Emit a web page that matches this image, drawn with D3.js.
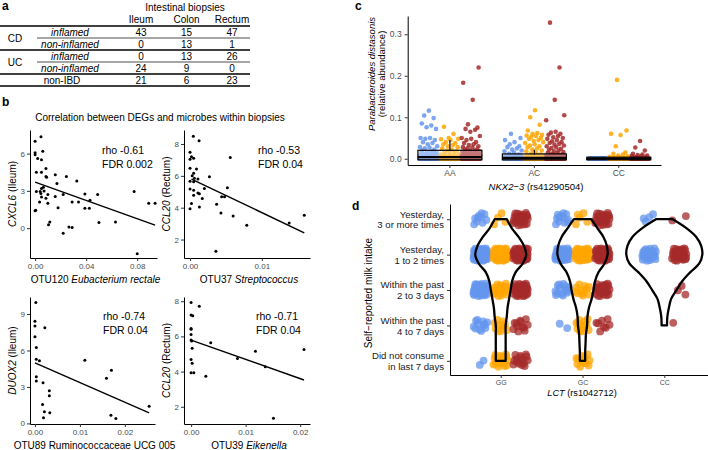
<!DOCTYPE html>
<html>
<head>
<meta charset="utf-8">
<script src="https://cdn.jsdelivr.net/npm/d3@7"></script>
<style>
  body { margin: 0; background: #fff; }
</style>
</head>
<body>
<svg id="fig" width="708" height="450"></svg>
<script>
// ---------- panel a: table ----------
const tissues = ["Ileum", "Colon", "Rectum"];
const diseases = ["CD", "UC"];
const states = ["inflamed", "non-inflamed"];
const cdCounts = [[43, 15, 47], [0, 13, 1]];
const ucCounts = [[0, 13, 26], [24, 9, 0]];
const nonIbdCounts = [21, 6, 23];

// ---------- panel b: correlations (x = OTU abundance, y = expression) ----------
const tlPoints = [[0,7.0],[0.0046,7.35],[0,6.06],[0,5.9],[0.002,5.6],[0.006,6.2],[0.005,5.5],[0.001,4.5],[0.005,4.5],
  [0.0085,4.8],[0.0085,4.15],[0.009,4.1],[0.0158,4.3],[0.0245,4.15],[0.0327,3.8],[0.0171,3.6],[0.001,2.95],[0.004,2.95],
  [0.0045,2.8],[0.0065,3.3],[0.005,3.2],[0.007,3.0],[0.005,2.5],[0.0035,2.1],[0.0085,2.4],[0.010,2.7],[0.010,2.0],
  [0.0158,2.55],[0.022,2.7],[0.018,1.65],[0.029,2.1],[0.034,2.1],[0.039,2.75],[0.039,1.6],[0.043,2.25],[0.0425,1.6],
  [0.049,2.7],[0.050,0.45],[0.063,0.5],[0.0776,2.95],[0.089,2.0],[0.094,2.0],[0,1.4],[0.0005,1.45],[0.0115,0.5],
  [0.0105,0.27],[0.0265,0.1],[0.029,0.05],[0.022,-0.4],[0.080,-2.05]];
const tlFit = [[0, 3.7], [0.094, 0.24]];

const trPoints = [[0.00046,8.48],[0.00126,8.2],[0,7.49],[0.0002,7.2],[0.0005,7.1],[0,7.05],[0.0009,6.43],[0,6.47],
  [0.0005,6.16],[0.0003,6.0],[0.0006,5.85],[0.0011,5.8],[0.0027,5.94],[0.0056,7.15],[0.0005,5.63],[0,5.66],[0,5.17],
  [0.0005,5.1],[0.0011,4.93],[0.0005,4.78],[0.0013,4.88],[0.002,5.2],[0.0017,4.58],[0.0002,4.26],[0,3.94],[0.0013,4.04],
  [0.0037,4.22],[0.0044,4.68],[0.0048,4.68],[0.0052,5.25],[0.0043,3.67],[0.006,3.48],[0.0079,2.89],[0.0138,3.04],
  [0.0159,3.52],[0.0036,1.27]];
const trFit = [[0.0002, 5.8], [0.0159, 2.42]];

const blPoints = [[0.0002,9.94],[0,8.4],[0,8.02],[0.0022,7.86],[0,7.12],[0.0003,6.24],[0.0003,5.28],[0.001,5.15],
  [0.0003,3.83],[0.0003,3.48],[0.0018,3.34],[0.0032,2.68],[0.0032,2.27],[0.0017,1.56],[0.0021,0.95],[0.0033,0.87],
  [0.0019,0.46],[0.0111,5.2],[0.0159,3.72],[0.017,4.38],[0.0169,0.68],[0.018,0.41],[0.0254,1.42]];
const blFit = [[0, 4.98], [0.0254, 0.87]];

const brPoints = [[0,7.93],[0.0015,7.72],[0,7.21],[0.0003,7.17],[0,6.45],[0,6.4],[0,6.11],[0,5.79],[0.0001,5.74],
  [0.0002,5.32],[0,4.69],[0.0002,4.47],[0,3.93],[0.0005,3.93],[0.0027,3.74],[0.0036,5.64],[0.0085,4.75],[0.0118,5.16],
  [0.0207,5.26],[0.0151,1.34],[0.0136,4.27]];
const brFit = [[0, 5.79], [0.0207, 3.52]];

// ---------- panel c: P. distasonis by NKX2-3 genotype (three cohorts per genotype) ----------
const nkxGenotypes = ["AA", "AC", "CC"];
const aaBlue = [.116,.104,.098,.085,.080,.076,.072,.050,.050,.048,.045,.040,.038,.035,.030,.028,.027,.025,.022,.020,
  .018,.017,.015,.015,.013,.012,.012,.010,.010,.009,.008,.008,.007,.006,.006,.005,.005,.005,.004,.004,.004,.003,.003,
  .003,.002,.002,.002,.002,.001,.001,.001,.001,
  0,0,0,0,0,0,0,0,0,0,0,0,0,0,0,0,0,0,0,0,0,0,0,0,0,0,0,0];
const aaOrange = [.077,.060,.050,.048,.047,.045,.040,.038,.035,.033,.030,.028,.025,.022,.020,.018,.015,.014,.012,.011,
  .010,.009,.008,.007,.006,.006,.005,.005,.004,.004,.003,.003,.002,.002,.001,.001,.001,
  0,0,0,0,0,0,0,0,0,0,0,0,0,0,0,0,0,0,0,0,0,0,0];
const aaRed = [.220,.183,.142,.083,.075,.072,.070,.065,.055,.050,.048,.045,.040,.038,.035,.033,.030,.028,.027,.025,
  .023,.022,.020,.019,.018,.017,.016,.015,.014,.014,.013,.012,.012,.011,.010,.010,.009,.009,.008,.008,.008,.007,.007,
  .006,.006,.006,.005,.005,.005,.005,.004,.004,.004,.003,.003,.003,.003,.002,.002,.002,.002,.001,.001,.001,.001,.001,
  0,0,0,0,0,0,0,0,0,0,0,0,0,0,0,0,0,0,0,0,0,0,0,0,0,0,0,0,0,0,0,0,0,0,0,0];
const acBlue = [.060,.050,.045,.040,.035,.030,.028,.025,.022,.020,.018,.015,.012,.010,.008,.008,.007,.007,.006,.006,
  .006,.005,.005,.005,.004,.004,.004,.003,.003,.003,.003,.002,.002,.002,.002,.002,.002,.002,.002,.002,.002,
  .001,.001,.001,.001,.001,.001,.001,.001,.001,.001,.001,.001,
  0,0,0,0,0,0,0,0,0,0,0,0,0,0,0,0,0,0,0,0,0,0,0,0,0,0,0,0,0,0];
const acOrange = [.117,.100,.082,.068,.062,.060,.058,.056,.055,.053,.050,.048,.045,.043,.040,.038,.035,.032,.030,.028,
  .025,.022,.020,.018,.015,.012,.010,.008,.008,.007,.007,.006,.006,.006,.005,.005,.005,.004,.004,.004,.003,.003,.003,
  .003,.002,.002,.002,.002,.002,.002,.002,.002,.002,.002,.001,.001,.001,.001,.001,.001,.001,.001,.001,.001,.001,
  0,0,0,0,0,0,0,0,0,0,0,0,0,0,0,0,0,0,0,0,0,0,0,0,0,0,0,0,0,0];
const acRed = [.328,.220,.142,.105,.093,.065,.063,.060,.058,.055,.052,.050,.048,.045,.042,.040,.038,.036,.034,.032,
  .030,.028,.026,.024,.022,.020,.018,.016,.015,.014,.012,.011,.010,.009,.008,.008,.008,.007,.007,.007,.006,.006,.006,
  .006,.005,.005,.005,.005,.004,.004,.004,.004,.004,.004,.003,.003,.003,.003,.003,.003,.003,
  .002,.002,.002,.002,.002,.002,.002,.002,.002,.002,.002,.002,.002,.002,
  .001,.001,.001,.001,.001,.001,.001,.001,.001,.001,.001,.001,.001,
  0,0,0,0,0,0,0,0,0,0,0,0,0,0,0,0,0,0,0,0,0,0,0,0,0,0,0,0,0,0];
const ccBlue = [.001,.001,.001,0,0,0,0,0,0,0,0,0,0,0,0,0,0,0,0,0,0,0,0,0,0,0,0,0,0,0,0,0,0,0,0,0];
const ccOrange = [.190,.068,.060,.057,.030,.015,.012,.010,.008,.006,.005,.004,.003,.002,.002,.002,.001,.001,.001,.001,
  .001,0,0,0,0,0,0,0,0,0,0,0,0,0,0,0,0,0,0,0,0,0,0,0,0,0];
const ccRed = [.043,.027,.020,.012,.010,.009,.008,.007,.006,.005,.004,.003,.002,.002,.002,.001,.001,.001,.001,
  0,0,0,0,0,0,0,0,0,0,0,0,0,0,0,0,0,0,0,0,0,0,0];

// ---------- panel d: milk intake by LCT genotype ----------
const lctGenotypes = ["GG", "GC", "CC"];
const intakeLevels = [["Yesterday,", "3 or more times"], ["Yesterday,", "1 to 2 times"],
  ["Within the past", "2 to 3 days"], ["Within the past", "4 to 7 days"], ["Did not consume", "in last 7 days"]];
// points per intake level, columns: blue, orange, red cohort
const countsGG = [[10, 4, 25], [50, 50, 50], [35, 20, 35], [12, 10, 12], [2, 20, 15]];
const countsGC = [[12, 5, 25], [40, 40, 40], [15, 12, 25], [2, 12, 8], [0, 12, 0]];
const countsCC = [[4, 0, 2], [25, 0, 30], [0, 0, 3], [0, 0, 1], [0, 0, 0]];
// violin outline: relative density read at intake positions
const violinPosGG = [1, 1.25, 1.5, 1.75, 2, 2.25, 2.5, 2.75, 3, 3.25, 3.5, 3.75, 4, 4.25, 4.5, 4.75, 5];
const violinGG = [0.16, 0.29, 0.47, 0.61, 0.67, 0.58, 0.39, 0.30, 0.26, 0.22, 0.18, 0.16, 0.13, 0.13, 0.13, 0.13, 0.13];
const violinPosGC = [1, 1.25, 1.5, 1.75, 2, 2.25, 2.5, 2.75, 3, 3.25, 3.5, 3.75, 4, 4.25, 4.5, 4.75, 5];
const violinGC = [0.23, 0.39, 0.55, 0.64, 0.66, 0.58, 0.42, 0.33, 0.29, 0.24, 0.17, 0.13, 0.12, 0.09, 0.08, 0.07, 0.07];
const violinPosCC = [1, 1.25, 1.5, 1.75, 2, 2.25, 2.5, 2.75, 3, 3.25, 3.5, 3.75, 4];
const violinCC = [0.22, 0.58, 0.84, 0.97, 1.0, 0.92, 0.68, 0.47, 0.32, 0.18, 0.12, 0.08, 0.07];

const cohortColors = ["#6495ED", "#FFA500", "#A52A2A"];

// ============================================================
const FONT = "'Liberation Sans', Arial, Helvetica, sans-serif";
const svg = d3.select("#fig").style("font-family", FONT);

// deterministic spread for jittered points
function halton(i, b) {
  let f = 1, r = 0;
  while (i > 0) { f /= b; r += f * (i % b); i = Math.floor(i / b); }
  return r;
}

function styleAxis(g, fs) {
  g.attr("font-family", FONT);
  g.select(".domain").attr("stroke", "#000").attr("stroke-width", 1);
  g.selectAll(".tick line").attr("stroke", "#333");
  g.selectAll(".tick text").attr("fill", "#4d4d4d").attr("font-size", fs);
}

function richText(sel, parts) {
  parts.forEach(([t, it]) => {
    sel.append("tspan").attr("font-style", it ? "italic" : "normal").text(t);
  });
  return sel;
}

function letter(x, y, t) {
  svg.append("text").attr("x", x).attr("y", y).attr("font-weight", "bold")
    .attr("font-size", 12).text(t);
}

// ---------- a ----------
letter(2, 10, "a");
const ta = svg.append("g").attr("font-size", 10).attr("fill", "#000");
const colX = d3.scalePoint().domain(tissues).range([141, 232]);
const rowY = d3.scaleBand().domain(d3.range(5)).range([26, 86]);

ta.append("text").attr("x", 185).attr("y", 11).attr("text-anchor", "middle").text("Intestinal biopsies");
tissues.forEach(t => ta.append("text").attr("x", colX(t)).attr("y", 23).attr("text-anchor", "middle").text(t));

const tableRows = [];
diseases.forEach((d, di) => {
  const counts = di === 0 ? cdCounts : ucCounts;
  states.forEach((s, si) => tableRows.push({ disease: d, state: s, counts: counts[si], first: si === 0 }));
});
tableRows.push({ disease: null, state: "non-IBD", counts: nonIbdCounts });

tableRows.forEach((r, i) => {
  const cy = rowY(i) + rowY.bandwidth() / 2 + 3.6;
  const lab = ta.append("text").attr("x", r.disease ? 70 : 62).attr("y", cy).attr("text-anchor", "middle")
    .text(r.state);
  if (r.disease) lab.attr("font-style", "italic");
  r.counts.forEach((c, j) => ta.append("text").attr("x", colX(tissues[j])).attr("y", cy)
    .attr("text-anchor", "middle").text(c));
  if (r.disease && r.first) {
    ta.append("text").attr("x", 15).attr("y", rowY(i) + rowY.bandwidth() + 3.6)
      .attr("text-anchor", "middle").text(r.disease);
    ta.append("line").attr("x1", 37).attr("x2", 250)
      .attr("y1", rowY(i) + rowY.bandwidth()).attr("y2", rowY(i) + rowY.bandwidth())
      .attr("stroke", "#888").attr("stroke-width", 1.3);
  }
});
[0, 2, 4].forEach(i => ta.append("line").attr("x1", 0).attr("x2", 250)
  .attr("y1", rowY(i)).attr("y2", rowY(i)).attr("stroke", "#000").attr("stroke-width", 1.6));
ta.append("line").attr("x1", 0).attr("x2", 250).attr("y1", 86).attr("y2", 86)
  .attr("stroke", "#000").attr("stroke-width", 1.6);

// ---------- b ----------
letter(2, 106, "b");
svg.append("text").attr("x", 160).attr("y", 121).attr("text-anchor", "middle").attr("font-size", 10)
  .text("Correlation between DEGs and microbes within biopsies");

function scatterPanel(cfg) {
  const x = d3.scaleLinear().domain(cfg.xd).range([cfg.x0, cfg.x1]);
  const y = d3.scaleLinear().domain(cfg.yd).range([cfg.y1, cfg.y0]);
  const g = svg.append("g");

  const gx = g.append("g").attr("transform", `translate(0,${cfg.y1})`)
    .call(d3.axisBottom(x).tickValues(cfg.xt).tickFormat(d3.format(".2f"))
      .tickSize(3).tickSizeOuter(0).tickPadding(2));
  styleAxis(gx, 8);
  const gy = g.append("g").attr("transform", `translate(${cfg.x0},0)`)
    .call(d3.axisLeft(y).tickValues(cfg.yt).tickSize(3).tickSizeOuter(0).tickPadding(2));
  styleAxis(gy, 8);

  g.selectAll(".pt").data(cfg.points).enter().append("circle")
    .attr("cx", d => x(d[0])).attr("cy", d => y(d[1])).attr("r", 1.5).attr("fill", "#000");

  g.append("path").datum(cfg.fit)
    .attr("d", d3.line().x(d => x(d[0])).y(d => y(d[1])))
    .attr("stroke", "#000").attr("stroke-width", 1.4).attr("fill", "none");

  cfg.stat.forEach((s, i) => g.append("text").attr("x", cfg.sx).attr("y", cfg.sy + i * 14)
    .attr("font-size", 10.5).text(s));

  richText(g.append("text").attr("font-size", 10).attr("text-anchor", "middle")
    .attr("transform", `translate(${cfg.x0 - 14.5},${(cfg.y0 + cfg.y1) / 2}) rotate(-90)`), cfg.ytitle);
  richText(g.append("text").attr("font-size", 10).attr("text-anchor", "middle")
    .attr("x", (cfg.x0 + cfg.x1) / 2 + 2).attr("y", cfg.y1 + 25), cfg.xtitle);
}

scatterPanel({ points: tlPoints, fit: tlFit, x0: 30, x1: 157, y0: 130, y1: 258,
  xd: [-0.004, 0.0955], yd: [-2.4, 7.9], xt: [0, 0.04, 0.08], yt: [0, 3, 6],
  stat: ["rho -0.61", "FDR 0.002"], sx: 102, sy: 154,
  ytitle: [["CXCL6", true], ["  (Ileum)", false]], xtitle: [["OTU120  ", false], ["Eubacterium rectale", true]] });
scatterPanel({ points: trPoints, fit: trFit, x0: 184, x1: 310, y0: 130, y1: 258,
  xd: [-0.00084, 0.0167], yd: [0.84, 8.88], xt: [0, 0.01], yt: [2, 4, 6, 8],
  stat: ["rho -0.53", "FDR 0.04"], sx: 258, sy: 154,
  ytitle: [["CCL20", true], ["  (Rectum)", false]], xtitle: [["OTU37  ", false], ["Streptococcus", true]] });
scatterPanel({ points: blPoints, fit: blFit, x0: 30, x1: 155, y0: 297, y1: 424,
  xd: [-0.0011, 0.0267], yd: [-0.05, 10.4], xt: [0, 0.01, 0.02], yt: [0, 3, 6, 9],
  stat: ["rho -0.74", "FDR 0.04"], sx: 103, sy: 320,
  ytitle: [["DUOX2", true], ["  (Ileum)", false]], xtitle: [["OTU89 Ruminococcaceae UCG 005", false]] });
scatterPanel({ points: brPoints, fit: brFit, x0: 184, x1: 310, y0: 297, y1: 424,
  xd: [-0.0013, 0.0218], yd: [1.02, 8.24], xt: [0, 0.01, 0.02], yt: [2, 4, 6, 8],
  stat: ["rho -0.71", "FDR 0.04"], sx: 256, sy: 320,
  ytitle: [["CCL20", true], ["  (Rectum)", false]], xtitle: [["OTU39  ", false], ["Eikenella", true]] });

// ---------- c ----------
letter(355, 10, "c");
{
  const x = d3.scaleBand().domain(nkxGenotypes).range([407.7, 661]);
  const y = d3.scaleLinear().domain([-0.015, 0.344]).range([165, 16]);
  const g = svg.append("g");
  const groups = { AA: [aaBlue, aaOrange, aaRed], AC: [acBlue, acOrange, acRed], CC: [ccBlue, ccOrange, ccRed] };
  const dodge = 21;

  nkxGenotypes.forEach((gt, gi) => {
    const cx = x(gt) + x.bandwidth() / 2;
    groups[gt].forEach((vals, ci) => {
      g.append("g").selectAll("circle").data(vals).enter().append("circle")
        .attr("cx", (d, i) => cx + (ci - 1) * dodge + (halton(i + 1 + ci * 11 + gi * 5, 2) - 0.5) * 19)
        .attr("cy", d => y(d)).attr("r", 2.3)
        .attr("fill", cohortColors[ci]).attr("fill-opacity", 0.85);
    });
    // boxplot of all values for the genotype
    const v = groups[gt].flat().sort(d3.ascending);
    const q1 = d3.quantile(v, 0.25), med = d3.quantile(v, 0.5), q3 = d3.quantile(v, 0.75);
    const hi = d3.max(v.filter(d => d <= q3 + 1.5 * (q3 - q1)));
    const bw = 64;
    g.append("line").attr("x1", cx).attr("x2", cx).attr("y1", y(q3)).attr("y2", y(hi))
      .attr("stroke", "#000").attr("stroke-width", 1.2);
    g.append("rect").attr("x", cx - bw / 2).attr("width", bw).attr("y", y(q3) - 1)
      .attr("height", Math.max(0, y(q1) - y(q3)) + 2).attr("fill", "#fff").attr("fill-opacity", 0.35)
      .attr("stroke", "#000").attr("stroke-width", 1.2);
    g.append("line").attr("x1", cx - bw / 2).attr("x2", cx + bw / 2).attr("y1", y(med)).attr("y2", y(med))
      .attr("stroke", "#000").attr("stroke-width", 2.2);
  });

  const gy = g.append("g").attr("transform", "translate(407.7,0)")
    .call(d3.axisLeft(y).tickValues([0, 0.1, 0.2, 0.3]).tickFormat(d3.format(".1f"))
      .tickSize(3).tickSizeOuter(0).tickPadding(3));
  styleAxis(gy, 8.5);
  const gx = g.append("g").attr("transform", "translate(0,165)")
    .call(d3.axisBottom(x).tickSize(3).tickSizeOuter(0).tickPadding(2));
  styleAxis(gx, 8.5);

  richText(g.append("text").attr("x", 536).attr("y", 190).attr("font-size", 9.5).attr("text-anchor", "middle")
    .attr("fill", "#000"), [["NKX2−3", true], [" (rs41290504)", false]]);
  g.append("text").attr("font-size", 9.5).attr("text-anchor", "middle").attr("font-style", "italic")
    .attr("transform", "translate(375,74) rotate(-90)").text("Parabacteroides distasonis");
  g.append("text").attr("font-size", 9.5).attr("text-anchor", "middle")
    .attr("transform", "translate(385,74) rotate(-90)").text("(relative abundance)");
}

// ---------- d ----------
letter(352, 210, "d");
{
  const x = d3.scaleLinear().domain([0.38, 3.534]).range([450, 708]);
  const y = d3.scaleLinear().domain([0.57, 5.4]).range([204, 375]);
  const w = d3.scaleLinear().domain([0, 1]).range([0, 38]);
  const g = svg.append("g");
  const counts = [countsGG, countsGC, countsCC];

  counts.forEach((cm, gi) => {
    const cx = x(gi + 1);
    const present = [0, 1, 2].filter(ci => d3.sum(cm, r => r[ci]) > 0);
    const step = 60 / present.length;
    present.forEach((ci, pi) => {
      const ox = cx - 30 + step * (pi + 0.5);
      const pts = [];
      cm.forEach((row, li) => d3.range(row[ci]).forEach(k => pts.push({ lvl: li + 1, k: k + 1 + li * 3 + ci * 7 })));
      g.append("g").selectAll("circle").data(pts).enter().append("circle")
        .attr("cx", d => ox + (halton(d.k, 2) - 0.5) * 15)
        .attr("cy", d => y(d.lvl) + (halton(d.k, 3) - 0.5) * 13)
        .attr("r", 3.9).attr("fill", cohortColors[ci]).attr("fill-opacity", 0.75);
    });
  });

  const violins = [[violinPosGG, violinGG], [violinPosGC, violinGC], [violinPosCC, violinCC]];
  violins.forEach(([pos, dens], gi) => {
    const cx = x(gi + 1);
    const pts = pos.map((p, i) => [p, dens[i]]);
    g.append("path").datum(pts)
      .attr("d", d3.area().curve(d3.curveCatmullRom)
        .y(d => y(d[0])).x0(d => cx - w(d[1])).x1(d => cx + w(d[1])))
      .attr("fill", "none").attr("stroke", "#000").attr("stroke-width", 2.3).attr("stroke-linejoin", "round");
  });

  const gy = g.append("g").attr("transform", "translate(450,0)")
    .call(d3.axisLeft(y).tickValues([1, 2, 3, 4, 5]).tickFormat("").tickSize(3).tickSizeOuter(0));
  styleAxis(gy, 9.6);
  gy.selectAll(".tick").each(function (d) {
    const t = d3.select(this).append("text").attr("x", -6).attr("text-anchor", "end")
      .attr("font-size", 9.6).attr("fill", "#1a1a1a");
    intakeLevels[d - 1].forEach((line, i) => t.append("tspan").attr("x", -6).attr("y", i ? 8.6 : -2.2).text(line));
  });
  const gx = g.append("g").attr("transform", "translate(0,375)")
    .call(d3.axisBottom(x).tickValues([1, 2, 3]).tickFormat(d => lctGenotypes[d - 1])
      .tickSize(3).tickSizeOuter(0).tickPadding(2));
  styleAxis(gx, 7);

  richText(g.append("text").attr("x", 582).attr("y", 396).attr("font-size", 9.2).attr("text-anchor", "middle"),
    [["LCT", true], [" (rs1042712)", false]]);
  g.append("text").attr("font-size", 10).attr("text-anchor", "middle")
    .attr("transform", "translate(372,293) rotate(-90)").text("Self−reported milk intake");
}
</script>
</body>
</html>
